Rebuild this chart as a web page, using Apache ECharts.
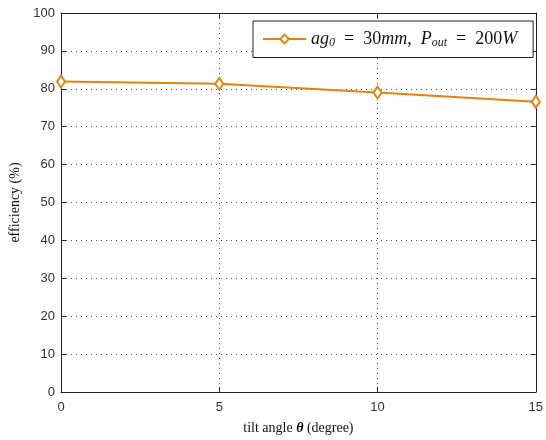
<!DOCTYPE html>
<html><head><meta charset="utf-8">
<script src="https://cdn.jsdelivr.net/npm/echarts@6/dist/echarts.min.js"></script>
<style>html,body{margin:0;padding:0;background:#fff}#c{width:546px;height:440px}</style>
</head><body><div id="c"></div>
<script>
const tiltAngles = [0, 5, 10, 15];
const efficiency = [81.9, 81.3, 79.0, 76.6];
const xTicks = [0, 5, 10, 15];
const yTicks = [0, 10, 20, 30, 40, 50, 60, 70, 80, 90, 100];
const seriesName = 'ag0 = 30mm, Pout = 200W';

const orange = '#E5820E';
const chart = echarts.init(document.getElementById('c'), null, {renderer: 'canvas'});
const tickFont = {fontFamily: 'Liberation Sans, Arial, sans-serif', fontSize: 13, color: '#333'};
const serif = 'Liberation Serif, DejaVu Serif, serif';
const axisCommon = {
  axisLine: {show: true, onZero: false, lineStyle: {color: '#222', width: 1}},
  axisTick: {show: true, inside: true, length: 5, lineStyle: {color: '#222'}},
};
chart.setOption({
  animation: false,
  grid: {left: 61, right: 8, top: 13, bottom: 45, containLabel: false},
  legend: {
    show: true, left: 253, top: 21,
    padding: [9, 16, 9, 9],
    backgroundColor: '#fff', borderColor: '#222', borderWidth: 1,
    itemWidth: 43, itemHeight: 11, itemGap: 5,
    data: [seriesName],
    formatter: () => '{i|ag}{s|0}{t|  =  30}{i|mm}{t|,  }{i|P}{s|out}{t|  =  200}{i|W}',
    textStyle: {
      rich: {
        i: {fontFamily: serif, fontStyle: 'italic', fontSize: 18, color: '#111'},
        t: {fontFamily: serif, fontSize: 18, color: '#111'},
        s: {fontFamily: serif, fontStyle: 'italic', fontSize: 12, color: '#111', verticalAlign: 'bottom', padding: [7, 0, 0, 0]}
      }
    }
  },
  xAxis: [{
    type: 'value', min: 0, max: 15, interval: 5, position: 'bottom',
    ...axisCommon,
    axisLabel: {...tickFont, margin: 9, formatter: v => xTicks.includes(v) ? String(v) : ''},
    splitLine: {show: true, lineStyle: {type: [1, 4], color: '#555', width: 1}},
    name: '{a|tilt angle }{b|θ}{a| (degree)}', nameLocation: 'middle', nameGap: 29,
    nameTextStyle: {rich: {a: {fontFamily: serif, fontSize: 14, color: '#111'}, b: {fontFamily: serif, fontSize: 14, fontStyle: 'italic', fontWeight: 'bold', color: '#111'}}}
  }, {
    type: 'value', min: 0, max: 15, interval: 5, position: 'top',
    ...axisCommon, axisLabel: {show: false}, splitLine: {show: false}
  }],
  yAxis: [{
    type: 'value', min: 0, max: 100, interval: 10, position: 'left',
    ...axisCommon,
    axisLabel: {...tickFont, margin: 6, formatter: v => yTicks.includes(v) ? String(v) : ''},
    splitLine: {show: true, lineStyle: {type: [1, 4], color: '#555', width: 1}},
    name: 'efficiency (%)', nameLocation: 'middle', nameGap: 37, nameRotate: 90,
    nameTextStyle: {fontFamily: serif, fontSize: 14, color: '#111'}
  }, {
    type: 'value', min: 0, max: 100, interval: 10, position: 'right',
    ...axisCommon, axisLabel: {show: false}, splitLine: {show: false}
  }],
  series: [{
    name: seriesName, type: 'line',
    data: tiltAngles.map((x, i) => [x, efficiency[i]]),
    symbol: 'emptyDiamond', symbolSize: [8, 12], showAllSymbol: true,
    lineStyle: {color: orange, width: 2},
    itemStyle: {color: orange, borderColor: orange, borderWidth: 1.5},
    clip: false
  }]
});
</script></body></html>
